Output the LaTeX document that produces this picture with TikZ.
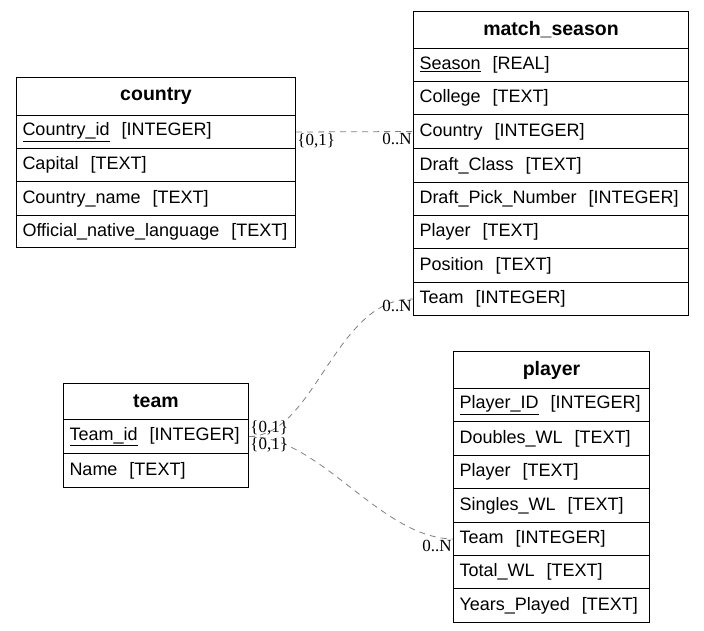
\documentclass[tikz,border=0pt]{standalone}
\usepackage{fontspec}
\setmainfont{Liberation Sans}
\newfontfamily\lblfont{Liberation Serif}
\begin{document}
\begin{tikzpicture}[x=1pt,y=-1pt,
  cell/.style={draw=black, line width=1pt, anchor=north west, inner xsep=6pt, inner ysep=0pt, align=left, font=\fontsize{18}{20}\selectfont},
  titlecell/.style={cell, align=center, font=\fontsize{19.5}{22}\selectfont\bfseries},
  rel/.style={draw=gray, dashed, dash pattern=on 6pt off 5pt, line width=0.8pt},
  card/.style={font=\lblfont\fontsize{17}{19}\selectfont, inner sep=1pt, text=black}]
\useasboundingbox (0,0) rectangle (704,631);
% country
\node[titlecell, text width=267pt, minimum height=38pt] (country) at (16,77) {country};
\node[cell, text width=267pt, minimum height=33pt] (country-Country_id) at (16,115) {\underline{Country\_id}\ \ [INTEGER]};
\node[cell, text width=267pt, minimum height=33pt] (country-Capital) at (16,148) {Capital\ \ [TEXT]};
\node[cell, text width=267pt, minimum height=34pt] (country-Country_name) at (16,181) {Country\_name\ \ [TEXT]};
\node[cell, text width=267pt, minimum height=32pt] (country-Official) at (16,215) {Official\_native\_language\ \ [TEXT]};
% match_season
\node[titlecell, text width=263pt, minimum height=37pt] (ms) at (413,11) {match\_season};
\node[cell, text width=263pt, minimum height=33pt] (ms-Season) at (413,48) {\underline{Season}\ \ [REAL]};
\node[cell, text width=263pt, minimum height=33pt] (ms-College) at (413,81) {College\ \ [TEXT]};
\node[cell, text width=263pt, minimum height=34pt] (ms-Country) at (413,114) {Country\ \ [INTEGER]};
\node[cell, text width=263pt, minimum height=34pt] (ms-Draft_Class) at (413,148) {Draft\_Class\ \ [TEXT]};
\node[cell, text width=263pt, minimum height=33pt] (ms-Draft_Pick) at (413,182) {Draft\_Pick\_Number\ \ [INTEGER]};
\node[cell, text width=263pt, minimum height=33pt] (ms-Player) at (413,215) {Player\ \ [TEXT]};
\node[cell, text width=263pt, minimum height=34pt] (ms-Position) at (413,248) {Position\ \ [TEXT]};
\node[cell, text width=263pt, minimum height=33pt] (ms-Team) at (413,282) {Team\ \ [INTEGER]};
% team
\node[titlecell, text width=173pt, minimum height=36pt] (team) at (63,383) {team};
\node[cell, text width=173pt, minimum height=34pt] (team-Team_id) at (63,419) {\underline{Team\_id}\ \ [INTEGER]};
\node[cell, text width=173pt, minimum height=34pt] (team-Name) at (63,453) {Name\ \ [TEXT]};
% player
\node[titlecell, text width=184pt, minimum height=37pt] (player) at (453,351) {player};
\node[cell, text width=184pt, minimum height=33pt] (player-Player_ID) at (453,388) {\underline{Player\_ID}\ \ [INTEGER]};
\node[cell, text width=184pt, minimum height=34pt] (player-Doubles_WL) at (453,421) {Doubles\_WL\ \ [TEXT]};
\node[cell, text width=184pt, minimum height=33pt] (player-Player) at (453,455) {Player\ \ [TEXT]};
\node[cell, text width=184pt, minimum height=34pt] (player-Singles_WL) at (453,488) {Singles\_WL\ \ [TEXT]};
\node[cell, text width=184pt, minimum height=33pt] (player-Team) at (453,522) {Team\ \ [INTEGER]};
\node[cell, text width=184pt, minimum height=33pt] (player-Total_WL) at (453,555) {Total\_WL\ \ [TEXT]};
\node[cell, text width=184pt, minimum height=34pt] (player-Years) at (453,588) {Years\_Played\ \ [TEXT]};
% relations
\draw[rel] (country-Country_id.east) -- (ms-Country.west)
  node[card, pos=0, anchor=north west] {\{0,1\}}
  node[card, pos=1, anchor=north east] {0..N};
\draw[rel] (team-Team_id.east) .. controls (315,436) and (335,298) .. (ms-Team.west)
  node[card, pos=0, anchor=south west] {\{0,1\}}
  node[card, pos=1, anchor=north east] {0..N};
\draw[rel] (team-Team_id.east) .. controls (320,436) and (380,538) .. (player-Team.west)
  node[card, pos=0, anchor=north west] {\{0,1\}}
  node[card, pos=1, anchor=north east] {0..N};
\end{tikzpicture}
\end{document}
